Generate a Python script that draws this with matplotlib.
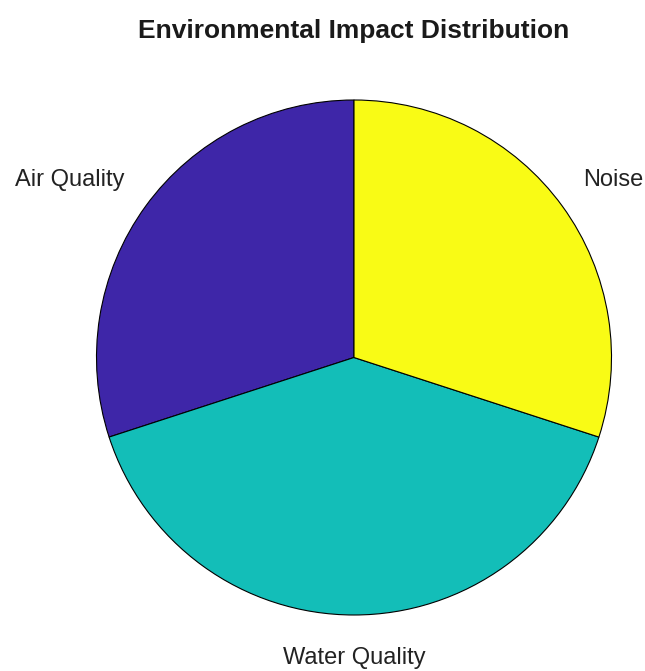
import matplotlib.pyplot as plt
import numpy as np

categories = ['Air Quality', 'Water Quality', 'Noise']
shares = [30, 40, 30]
slice_colors = ['#3E26A8', '#13BEB8', '#F9FB15']

plt.rcParams['font.family'] = ['Liberation Sans', 'DejaVu Sans']


def main():
    fig = plt.figure(figsize=(6.45, 6.71), dpi=100)
    # axes box sized so the unit circle fills it exactly
    ax = fig.add_axes([96.5 / 645, 56 / 671, 515 / 645, 515 / 671])

    wedges, _ = ax.pie(shares, colors=slice_colors, startangle=90,
                       counterclock=True, radius=1.0,
                       wedgeprops=dict(edgecolor='black', linewidth=0.8))

    # labels sit just outside the rim, on each slice's middle angle
    for w, name in zip(wedges, categories):
        mid = np.deg2rad((w.theta1 + w.theta2) / 2)
        x, y = 1.1 * np.cos(mid), 1.1 * np.sin(mid)
        if abs(x) < 0.05:
            ha = 'center'
        else:
            ha = 'left' if x > 0 else 'right'
        va = 'bottom' if y > 0 else 'top'
        dy = 0 if y > 0 else -4.5
        ax.annotate(name, (x, y), xytext=(0, dy), textcoords='offset points',
                    ha=ha, va=va, fontsize=17, color='#222222',
                    annotation_clip=False)

    ax.set_xlim(-1, 1)
    ax.set_ylim(-1, 1)
    ax.set_aspect('auto')
    ax.axis('off')

    fig.text(354 / 645, 1 - 31 / 671, 'Environmental Impact Distribution',
             ha='center', va='center', fontsize=19, fontweight='bold',
             color='#1a1a1a')

    fig.savefig('out.png', dpi=100)


if __name__ == '__main__':
    main()
